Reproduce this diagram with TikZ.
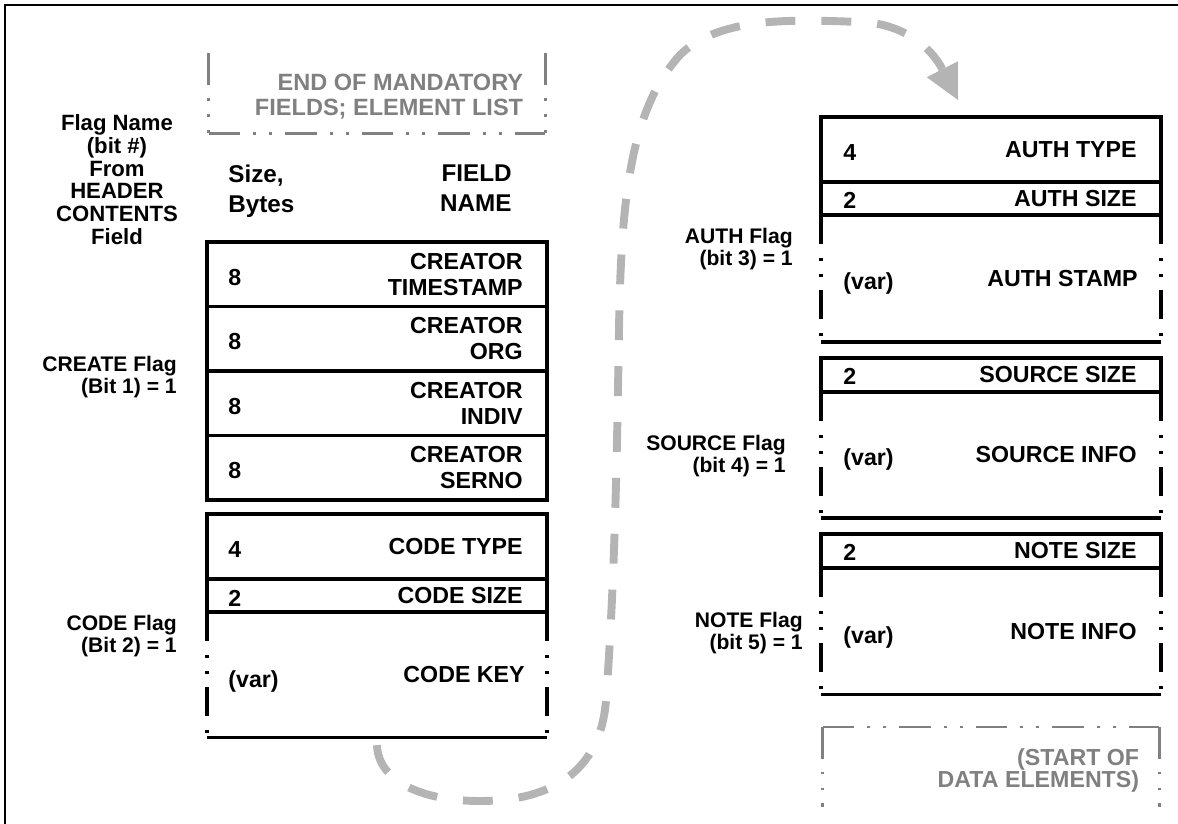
\documentclass[tikz,border=0pt]{standalone}
\usepackage{fontspec}
\setmainfont{Liberation Sans}
\usepackage{tikz}
\usetikzlibrary{positioning,arrows.meta}
\definecolor{hintgray}{RGB}{128,128,128}
\definecolor{hopgray}{RGB}{180,180,180}

\begin{document}
\begin{tikzpicture}[x=0.02cm, y=-0.02cm, font=\fontsize{13.2}{14.8}\selectfont\bfseries,
  fieldbox/.style={draw, line width=2pt, minimum width=6.8cm, minimum height=#1, inner sep=0pt, outer sep=0pt},
  fieldbox/.default=1.29cm,
  varbox/.style={minimum width=6.8cm, minimum height=#1, inner sep=0pt, outer sep=0pt},
  varbox/.default=2.52cm,
  hintbox/.style={minimum width=6.74cm, minimum height=1.6cm, inner sep=0pt, outer sep=0pt},
  varside/.style={line width=1.8pt, dash pattern=on 16.5pt off 8pt on 1.7pt off 7.4pt on 1.7pt off 7.4pt},
  hintline/.style={hintgray, line width=1.5pt, dash pattern=on 18pt off 7.4pt on 1.7pt off 7.4pt on 1.7pt off 7.4pt},
  sizelbl/.style={anchor=base west, inner sep=0pt},
  namelbl/.style={anchor=east, align=right, inner sep=0pt},
  flaglbl/.style={anchor=north east, align=right, inner sep=0pt, font=\fontsize{12}{12.4}\selectfont\bfseries},
  hopline/.style={hopgray, line width=4.5pt, dash pattern=on 17pt off 14.8pt,
    -{Triangle[length=0.69cm, width=0.7cm, line width=0pt]}}]
\useasboundingbox (0,0) rectangle (1178,824);
\draw[line width=1.6pt] (5,824) -- (5,5) -- (1178,5);
% left column: creator and code fields
\node[fieldbox] (cts) at (377,274.5) {};
\node[fieldbox, below=0pt of cts] (corg) {};
\node[fieldbox, below=0pt of corg] (cind) {};
\node[fieldbox, below=0pt of cind] (cser) {};
\node[fieldbox=1.3cm, below=0.28cm of cser] (ctype) {};
\node[fieldbox=0.66cm, below=0pt of ctype] (csize) {};
\node[varbox=2.5cm, below=0pt of csize] (ckey) {};
\node[hintbox, above=2.18cm of cts] (mend) {};
% right column: auth, source and note fields
\node[fieldbox=1.3cm] (atype) at (991,149.5) {};
\node[fieldbox=0.66cm, below=0pt of atype] (asize) {};
\node[varbox=2.54cm, below=0pt of asize] (astamp) {};
\node[fieldbox=0.68cm, below=0.32cm of astamp] (ssize) {};
\node[varbox, below=0pt of ssize] (sinfo) {};
\node[fieldbox=0.68cm, below=0.32cm of sinfo] (nsize) {};
\node[varbox=2.54cm, below=0pt of nsize] (ninfo) {};
\node[hintbox, below=0.64cm of ninfo] (dstart) {};
% open-ended variable fields
\draw[varside] (ckey.north west) -- (ckey.south west); \draw[varside] (ckey.north east) -- (ckey.south east);
\draw[varside] (astamp.north west) -- (astamp.south west); \draw[varside] (astamp.north east) -- (astamp.south east);
\draw[varside] (sinfo.north west) -- (sinfo.south west); \draw[varside] (sinfo.north east) -- (sinfo.south east);
\draw[varside] (ninfo.north west) -- (ninfo.south west); \draw[varside] (ninfo.north east) -- (ninfo.south east);
\draw[line width=1.8pt] (ckey.south west) -- (ckey.south east);
\draw[line width=1.8pt] (astamp.south west) -- (astamp.south east);
\draw[line width=1.8pt] (sinfo.south west) -- (sinfo.south east);
\draw[line width=1.8pt] (ninfo.south west) -- (ninfo.south east);
% grey markers
\draw[hintline] (mend.north west) -- (mend.south west); \draw[hintline] (mend.north east) -- (mend.south east);
\draw[hintline] (mend.south west) -- (mend.south east);
\draw[hintline] (dstart.north west) -- (dstart.south west); \draw[hintline] (dstart.north east) -- (dstart.south east);
\draw[hintline] (dstart.north west) -- (dstart.north east);
\node[anchor=north east, align=right, inner sep=0pt, hintgray, font=\fontsize{13.4}{14.2}\selectfont\bfseries] (mendtxt) at ([shift={(-22,20)}]mend.north east) {END OF MANDATORY\\FIELDS; ELEMENT LIST};
\node[anchor=north east, align=right, inner sep=0pt, hintgray, font=\fontsize{13.2}{12.9}\selectfont\bfseries] (dstarttxt) at ([shift={(-20,21)}]dstart.north east) {(START OF\\DATA ELEMENTS)};
% headings
\node[anchor=north, align=center, inner sep=0pt, font=\fontsize{12.6}{13}\selectfont\bfseries] (flaghd) at (117,114) {Flag Name\\(bit \#)\\From\\HEADER\\CONTENTS\\Field};
\node[anchor=north west, align=left, inner sep=0pt, font=\fontsize{13.8}{17}\selectfont\bfseries] (sizehd) at ([shift={(21,-78)}]cts.north west) {Size,\\Bytes};
\node[anchor=north east, align=right, inner sep=0pt, font=\fontsize{13.8}{17}\selectfont\bfseries] (namehd) at ([shift={(-35,-78)}]cts.north east) {FIELD\\NAME};
% sizes and field names
\node[sizelbl] at ([shift={(21,11)}]cts.west) {8};
\node[namelbl] at ([shift={(-24,0)}]cts.east) {CREATOR\\TIMESTAMP};
\node[sizelbl] at ([shift={(21,11)}]corg.west) {8};
\node[namelbl] at ([shift={(-24,0)}]corg.east) {CREATOR\\ORG};
\node[sizelbl] at ([shift={(21,11)}]cind.west) {8};
\node[namelbl] at ([shift={(-24,0)}]cind.east) {CREATOR\\INDIV};
\node[sizelbl] at ([shift={(21,11)}]cser.west) {8};
\node[namelbl] at ([shift={(-24,0)}]cser.east) {CREATOR\\SERNO};
\node[sizelbl] at ([shift={(21,11)}]ctype.west) {4};
\node[namelbl] at ([shift={(-24,0)}]ctype.east) {CODE TYPE};
\node[sizelbl] at ([shift={(21,11)}]csize.west) {2};
\node[namelbl] at ([shift={(-24,0)}]csize.east) {CODE SIZE};
\node[sizelbl] at ([shift={(21,13)}]ckey.west) {(var)};
\node[namelbl] at ([shift={(-22,0)}]ckey.east) {CODE KEY};
\node[sizelbl] at ([shift={(22,11)}]atype.west) {4};
\node[namelbl] at ([shift={(-24,0)}]atype.east) {AUTH TYPE};
\node[sizelbl] at ([shift={(22,10)}]asize.west) {2};
\node[namelbl] at ([shift={(-24,0)}]asize.east) {AUTH SIZE};
\node[sizelbl] at ([shift={(22,11)}]astamp.west) {(var)};
\node[namelbl] at ([shift={(-23,0)}]astamp.east) {AUTH STAMP};
\node[sizelbl] at ([shift={(22,10)}]ssize.west) {2};
\node[namelbl] at ([shift={(-24,0)}]ssize.east) {SOURCE SIZE};
\node[sizelbl] at ([shift={(22,11)}]sinfo.west) {(var)};
\node[namelbl] at ([shift={(-24,0)}]sinfo.east) {SOURCE INFO};
\node[sizelbl] at ([shift={(22,10)}]nsize.west) {2};
\node[namelbl] at ([shift={(-24,0)}]nsize.east) {NOTE SIZE};
\node[sizelbl] at ([shift={(22,12)}]ninfo.west) {(var)};
\node[namelbl] at ([shift={(-24,0)}]ninfo.east) {NOTE INFO};
% flag labels
\node[flaglbl] (createflag) at ([shift={(-30,49)}]corg.north west) {CREATE Flag\\(Bit 1) = 1};
\node[flaglbl] (codeflag) at ([shift={(-30,3)}]ckey.north west) {CODE Flag\\(Bit 2) = 1};
\node[flaglbl] (authflag) at ([shift={(-28,13)}]astamp.north west) {AUTH Flag\\(bit 3) = 1};
\node[flaglbl] (sourceflag) at ([shift={(-35,43)}]sinfo.north west) {SOURCE Flag\\(bit 4) = 1};
\node[flaglbl] (noteflag) at ([shift={(-18,44)}]ninfo.north west) {NOTE Flag\\(bit 5) = 1};
% jump from the code fields to the auth fields
\coordinate (hopstart) at ([shift={(0,8)}]ckey.south);
\coordinate (hopend) at ([shift={(-33,-17)}]atype.north);
\draw[hopline] (hopstart) .. controls (378,780) and (420,801) .. (480,801)
  .. controls (540,801) and (600,780) .. (606,700)
  .. controls (615,580) and (617,450) .. (619,330)
  .. controls (621,200) and (630,110) .. (680,55)
  .. controls (720,15) and (800,20) .. (860,22)
  .. controls (900,23) and (930,45) .. (hopend);
\end{tikzpicture}
\end{document}
